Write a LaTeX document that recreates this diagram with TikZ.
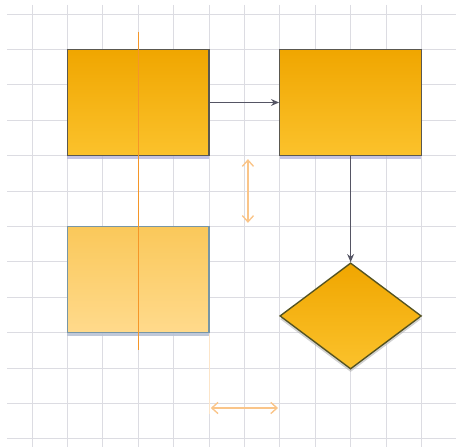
\documentclass[tikz,border=0pt]{standalone}
\usetikzlibrary{shapes.geometric,shadows,arrows.meta}
\definecolor{gridgray}{RGB}{220,220,226}
\definecolor{boxtop}{RGB}{240,166,0}
\definecolor{boxbottom}{RGB}{251,194,44}
\definecolor{boxline}{RGB}{90,88,80}
\definecolor{ghosttop}{RGB}{250,200,90}
\definecolor{ghostbottom}{RGB}{255,218,140}
\definecolor{ghostline}{RGB}{120,150,165}
\definecolor{guide}{RGB}{245,150,40}
\definecolor{wire}{RGB}{85,85,100}
\begin{document}
\begin{tikzpicture}[
	shape box/.style={rectangle, inner sep=0pt, minimum width=4cm, minimum height=3cm,
		top color=boxtop, bottom color=boxbottom, draw=boxline, line width=1.1pt,
		drop shadow={shadow xshift=0pt, shadow yshift=-2.5pt, fill=wire!60!blue!40, opacity=0.7}},
	ghost box/.style={shape box, top color=ghosttop, bottom color=ghostbottom, draw=ghostline,
		drop shadow={shadow xshift=0pt, shadow yshift=-2.5pt, fill=ghostline!50, opacity=0.6}},
	shape diamond/.style={diamond, inner sep=0pt, aspect=1.3333, minimum width=4cm, minimum height=3cm,
		top color=boxtop, bottom color=boxbottom, draw=boxline!70!yellow!60!black, line width=1.1pt,
		drop shadow={shadow xshift=0pt, shadow yshift=-2.5pt, fill=gray!60, opacity=0.6}},
	wire/.style={draw=wire, line width=1.1pt, -{Stealth[length=6.5pt,width=5.5pt]}},
	measure/.style={draw=guide!55, line width=1.1pt, {Straight Barb[length=5pt,width=9pt]}-{Straight Barb[length=5pt,width=9pt]}}
	]
	\useasboundingbox (-0.904,0.395) rectangle (11.977,-12.232);
	% grid
	\foreach \x in {0,...,11}
		\draw[gridgray, line width=0.7pt] (\x,0.254) -- (\x,-12.232);
	\foreach \y in {0,...,12}
		\draw[gridgray, line width=0.7pt] (-0.706,-\y) -- (11.977,-\y);
	% shapes
	\node[shape box](start) at (3,-2.5) {};
	\node[shape box](next) at (9,-2.5) {};
	\node[ghost box](moved) at (3,-7.5) {};
	\node[shape diamond](choice) at (9,-8.53) {};
	% connectors
	\draw[wire] (start.east) -- (next.west);
	\draw[wire] (next.south) -- (choice.north);
	% guides
	\coordinate(axistop) at (3,-0.5);
	\coordinate(axisbottom) at (3,-9.5);
	\draw[guide, line width=1pt] (axistop) -- (axisbottom);
	\coordinate(edgetop) at (5,-9.05);
	\coordinate(edgebottom) at (5,-11.3);
	\draw[guide!25, line width=0.7pt] (edgetop) -- (edgebottom);
	\coordinate(gaptop) at (6.1,-4.1);
	\coordinate(gapbottom) at (6.1,-5.9);
	\draw[measure] (gaptop) -- (gapbottom);
	\coordinate(gapleft) at (5.05,-11.13);
	\coordinate(gapright) at (6.95,-11.13);
	\draw[measure] (gapleft) -- (gapright);
\end{tikzpicture}
\end{document}
